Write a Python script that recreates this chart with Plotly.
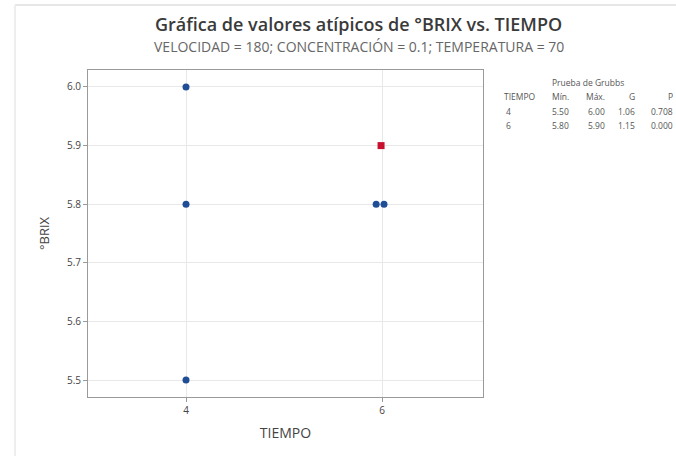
import plotly.graph_objects as go

# Data
tiempo_normal = [4, 4, 4, 5.94, 6.02]
brix_normal = [6.0, 5.8, 5.5, 5.8, 5.8]
tiempo_outlier = [5.99]
brix_outlier = [5.9]

y_ticks = [5.5, 5.6, 5.7, 5.8, 5.9, 6.0]
x_ticks = [4, 6]

table_header = ["TIEMPO", "Mín.", "Máx.", "G", "P"]
table_rows = [["4", "5.50", "6.00", "1.06", "0.708"],
              ["6", "5.80", "5.90", "1.15", "0.000"]]

W, H = 676, 456
L, R, T, B = 88, 676 - 483, 70, 456 - 397
pw, ph = W - L - R, H - T - B

def px(x):
    return (x - L) / pw

def py(y):
    return (H - B - y) / ph

fig = go.Figure()
fig.add_trace(go.Scatter(x=tiempo_normal, y=brix_normal, mode="markers",
                         marker=dict(color="#1F4E96", size=7, symbol="circle"),
                         showlegend=False))
fig.add_trace(go.Scatter(x=tiempo_outlier, y=brix_outlier, mode="markers",
                         marker=dict(color="#C8102E", size=7, symbol="square"),
                         showlegend=False))

font_family = "Open Sans, Noto Sans, sans-serif"
tfont = dict(size=8.5, color="#555555", family=font_family)

annotations = [
    dict(text="Gráfica de valores atípicos de °BRIX vs. TIEMPO", x=px(358), y=py(24),
         xref="paper", yref="paper", showarrow=False, xanchor="center", yanchor="middle",
         font=dict(size=18, color="#3A3A3A", family=font_family, weight=600)),
    dict(text="VELOCIDAD = 180; CONCENTRACIÓN = 0.1; TEMPERATURA = 70", x=px(359), y=py(47),
         xref="paper", yref="paper", showarrow=False, xanchor="center", yanchor="middle",
         font=dict(size=14, color="#666666", family=font_family)),
    dict(text="Prueba de Grubbs", x=px(588), y=py(82),
         xref="paper", yref="paper", showarrow=False, xanchor="center", yanchor="middle",
         font=tfont),
]
col_x = [502, 571, 607, 637, 675]
col_anchor = ["left", "right", "right", "right", "right"]
for j, h in enumerate(table_header):
    annotations.append(dict(text=h, x=px(col_x[j]), y=py(97), xref="paper", yref="paper",
                            showarrow=False, xanchor=col_anchor[j], yanchor="middle",
                            font=tfont))
for i, row in enumerate(table_rows):
    for j, v in enumerate(row):
        annotations.append(dict(text=v, x=px(col_x[j] + (2 if j == 0 else 0)), y=py(111 + 14 * i),
                                xref="paper", yref="paper",
                                showarrow=False, xanchor=col_anchor[j], yanchor="middle",
                                font=tfont))

shapes = [
    dict(type="line", xref="paper", yref="paper", x0=px(15), x1=px(676), y0=py(5), y1=py(5),
         line=dict(color="#E6E6E6", width=2)),
    dict(type="line", xref="paper", yref="paper", x0=px(15), x1=px(15), y0=py(5), y1=py(456),
         line=dict(color="#EEEEEE", width=2)),
]

fig.update_layout(
    width=W, height=H,
    margin=dict(l=L, r=R, t=T, b=B),
    paper_bgcolor="white", plot_bgcolor="white",
    font=dict(family=font_family, color="#444444"),
    annotations=annotations, shapes=shapes,
    xaxis=dict(range=[3, 7.03], tickvals=x_ticks, ticktext=[str(t) for t in x_ticks],
               showgrid=True, gridcolor="#E8E8E8", zeroline=False,
               showline=True, linecolor="#9A9A9A", mirror=True,
               ticks="outside", ticklen=4, tickcolor="#9A9A9A",
               tickfont=dict(size=10, color="#444444"),
               title=dict(text="TIEMPO", font=dict(size=14, color="#444444"), standoff=12)),
    yaxis=dict(range=[5.471, 6.029], tickvals=y_ticks, ticktext=[f"{t:.1f}" for t in y_ticks],
               showgrid=True, gridcolor="#E8E8E8", zeroline=False,
               showline=True, linecolor="#9A9A9A", mirror=True,
               ticks="outside", ticklen=4, tickcolor="#9A9A9A",
               tickfont=dict(size=10, color="#444444"),
               title=dict(text="°BRIX", font=dict(size=13, color="#444444"), standoff=14)),
)

fig.write_html("out.html", config={"displayModeBar": False},
               post_script="document.body.style.margin='0';document.body.style.overflow='hidden';")
